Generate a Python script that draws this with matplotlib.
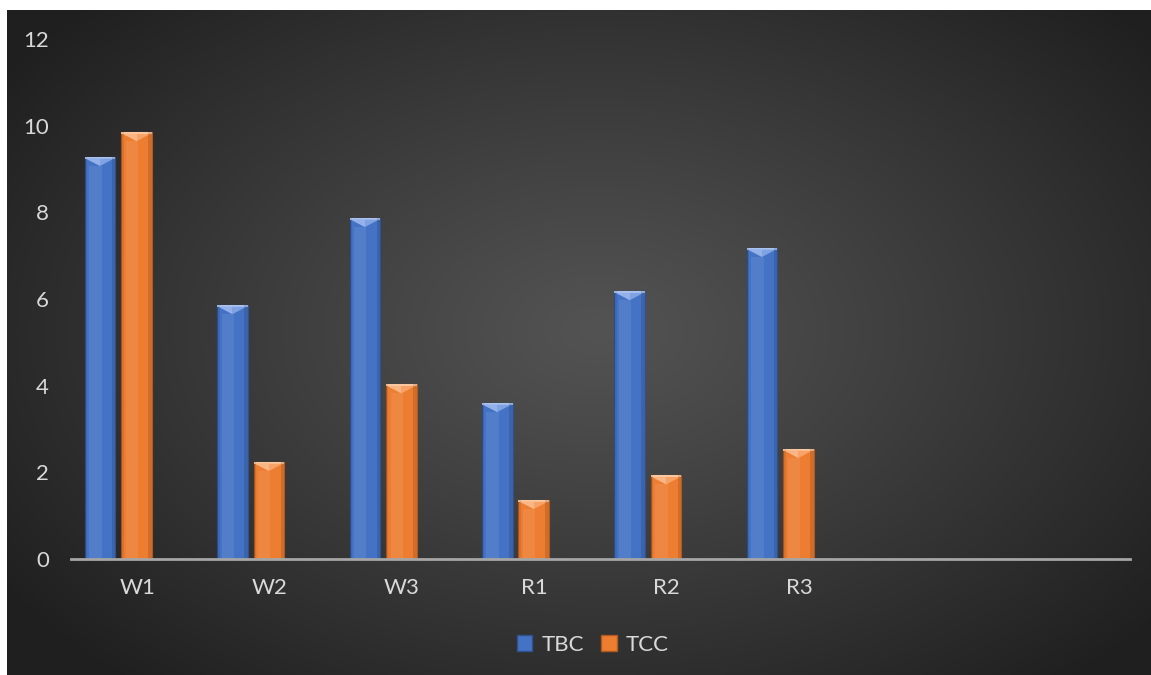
import numpy as np
import matplotlib
matplotlib.use("Agg")
import matplotlib.pyplot as plt
from matplotlib.patches import Rectangle, Polygon

plt.rcParams['font.family'] = ['Lato', 'DejaVu Sans']

# data
categories = ['W1', 'W2', 'W3', 'R1', 'R2', 'R3', '', '']
tbc = [9.28, 5.86, 7.87, 3.6, 6.18, 7.18]
tcc = [9.85, 2.24, 4.03, 1.36, 1.93, 2.54]
series_names = ['TBC', 'TCC']

W, H = 1151, 675
fig = plt.figure(figsize=(W / 100, H / 100), dpi=100, facecolor='white')

# dark radial background
bg = fig.add_axes([7 / W, 0, 1 - 7 / W, (H - 10) / H], zorder=-2)
yy, xx = np.mgrid[0:H - 10, 0:W - 7]
d = np.sqrt(((xx - 590) / 720.0) ** 2 + ((yy - 320) / 470.0) ** 2)
d = np.clip(d, 0, 1)
v = (0x53 - (0x53 - 0x1f) * d ** 1.1) / 255.0
bg.imshow(np.dstack([v, v, v]), aspect='auto', interpolation='bilinear')
bg.set_axis_off()

ax = fig.add_axes([71 / W, 116 / H, 1059 / W, 520 / H])
ax.set_facecolor('none')

x = np.arange(len(tbc))
bw = 0.232
blue = '#4472c4'
orange = '#ed7d31'

def draw_bars(xpos, vals, color, light, mid, dark):
    bars = ax.bar(xpos, vals, bw, color=color, edgecolor=dark, linewidth=0.8, zorder=3)
    for b in bars:
        x0, w, h = b.get_x(), b.get_width(), b.get_height()
        bev = 0.21
        # thin light strip at the top edge
        ax.add_patch(Rectangle((x0, h - 0.04), w, 0.04, facecolor=light,
                               edgecolor='none', zorder=4))
        # downward bevel triangle
        ax.add_patch(Polygon([[x0 + w * 0.05, h - 0.04], [x0 + w * 0.95, h - 0.04],
                              [x0 + w / 2, h - bev]], closed=True,
                             facecolor=mid, edgecolor='none', zorder=4))
        ax.add_patch(Polygon([[x0 + w * 0.05, h - 0.04], [x0 + w * 0.5, h - 0.04],
                              [x0 + w / 2, h - bev]], closed=True,
                             facecolor=light, edgecolor='none', alpha=0.5, zorder=4))
        # soft highlight strip and darker edges
        ax.add_patch(Rectangle((x0 + w * 0.15, 0), w * 0.4, h - bev, facecolor='white',
                               alpha=0.08, edgecolor='none', zorder=4))
        ax.add_patch(Rectangle((x0 + w * 0.88, 0), w * 0.12, h, facecolor='black',
                               alpha=0.12, edgecolor='none', zorder=4))
        ax.add_patch(Rectangle((x0, 0), w * 0.08, h, facecolor='black',
                               alpha=0.08, edgecolor='none', zorder=4))
    return bars

draw_bars(x - 0.28, tbc, blue, '#a9c2ef', '#7fa2e3', '#2f528f')
draw_bars(x - 0.005, tcc, orange, '#fcc79f', '#f7a368', '#ae5a21')

ax.set_xlim(-0.5, len(categories) - 0.5)
ax.set_ylim(0, 12)
ax.set_yticks(range(0, 13, 2))
ax.set_xticks(range(len(categories)))
ax.set_xticklabels(categories)
ax.tick_params(axis='both', length=0, colors='#d9d9d9', labelsize=16)
ax.tick_params(axis='y', pad=16)
ax.tick_params(axis='x', pad=14)
for s in ['top', 'right', 'left']:
    ax.spines[s].set_visible(False)
ax.spines['bottom'].set_color('#a6a6a6')
ax.spines['bottom'].set_linewidth(2)
ax.spines['bottom'].set_zorder(5)

handles = [Rectangle((0, 0), 1, 1, facecolor=blue, edgecolor='#2f528f'),
           Rectangle((0, 0), 1, 1, facecolor=orange, edgecolor='#ae5a21')]
fig.legend(handles, series_names, loc='center', bbox_to_anchor=(0.515, 1 - 645 / H),
           ncol=2, frameon=False, fontsize=16, labelcolor='#d9d9d9',
           handlelength=0.7, handleheight=0.7, handletextpad=0.4, columnspacing=0.8)

fig.savefig('out.png', dpi=100, facecolor='white')
